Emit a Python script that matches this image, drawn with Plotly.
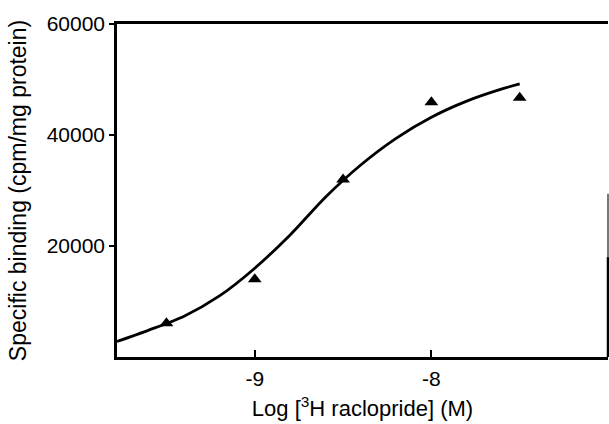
import plotly.graph_objects as go

# Data points (triangles)
log_conc = [-9.5, -9.0, -8.5, -8.0, -7.5]
binding = [6100, 14000, 32000, 45900, 46700]

# Fitted curve
curve_x = [-9.78, -9.6, -9.4, -9.2, -9.0, -8.8, -8.6, -8.4, -8.2, -8.0,
           -7.8, -7.6, -7.5]
curve_y = [2800, 4850, 7350, 11000, 16000, 22000, 28800, 34600, 39400, 43200,
           46100, 48300, 49200]

x_ticks = [-9, -8]
x_tick_labels = ["-9", "-8"]
y_ticks = [20000, 40000, 60000]
y_tick_labels = ["20000", "40000", "60000"]

FONT = "Arial, Liberation Sans, sans-serif"

fig = go.Figure()
fig.add_trace(go.Scatter(x=curve_x, y=curve_y, mode="lines",
                         line=dict(color="black", width=2.8, shape="spline", smoothing=0.8),
                         showlegend=False, hoverinfo="skip"))
fig.add_trace(go.Scatter(x=log_conc, y=binding, mode="markers",
                         marker=dict(symbol="triangle-up", size=12, color="black"),
                         showlegend=False))

fig.update_layout(
    width=609, height=424,
    margin=dict(l=117, r=1, t=24, b=67),
    paper_bgcolor="white", plot_bgcolor="white",
    font=dict(family=FONT, color="black"),
    xaxis=dict(range=[-9.78, -7.0], tickvals=x_ticks, ticktext=x_tick_labels,
               ticks="inside", ticklen=7, tickwidth=2, tickcolor="black",
               showline=True, linecolor="black", linewidth=2.5, mirror=True,
               showgrid=False, zeroline=False,
               tickfont=dict(size=21, family=FONT), ticklabelstandoff=1,
               title=dict(text="Log [<sup>3</sup>H raclopride] (M)",
                          font=dict(size=22, family=FONT), standoff=12)),
    yaxis=dict(range=[0, 60000], tickvals=y_ticks, ticktext=y_tick_labels,
               ticks="outside", ticklen=5, tickwidth=2, tickcolor="black",
               showline=True, linecolor="black", linewidth=2.5, mirror=False,
               showgrid=False, zeroline=False,
               tickfont=dict(size=21, family=FONT),
               title=dict(text="Specific binding (cpm/mg protein)",
                          font=dict(size=23, family=FONT), standoff=14)),
)

# partial right border as in the scan
fig.add_shape(type="line", xref="paper", yref="paper", x0=1, x1=1, y0=0, y1=0.30,
              line=dict(color="black", width=2.5))
fig.add_shape(type="line", xref="paper", yref="paper", x0=1, x1=1, y0=0.30, y1=0.49,
              line=dict(color="#777777", width=2))

fig.write_html("out.html")
